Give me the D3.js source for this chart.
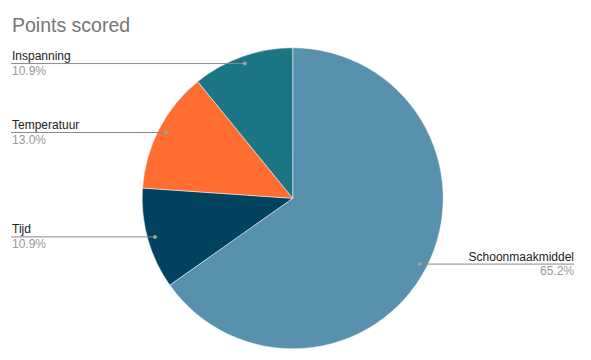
<!DOCTYPE html>
<html>
<head>
<meta charset="utf-8">
<script src="https://cdn.jsdelivr.net/npm/d3@7"></script>
<style>
  body { margin: 0; background: #fff; }
  svg { font-family: "Liberation Sans", Arial, sans-serif; }
</style>
</head>
<body>
<div id="chart"></div>
<script>
const categories = ['Schoonmaakmiddel', 'Tijd', 'Temperatuur', 'Inspanning'];
const points = [30, 5, 6, 5];
const colors = ['#5891ad', '#01425e', '#ff6d31', '#1c7585'];

const width = 591, height = 360;
const cx = 292.7, cy = 198.3, radius = 150.5;

const svg = d3.select('#chart')
    .append('svg')
    .attr('width', width)
    .attr('height', height);

svg.append('text')
    .attr('x', 12)
    .attr('y', 32)
    .attr('font-size', 19.5)
    .attr('fill', '#757575')
    .text('Points scored');

const total = d3.sum(points);
const data = categories.map((name, i) => ({name, value: points[i], color: colors[i]}));

const pie = d3.pie().sort(null).value(d => d.value);
const arc = d3.arc().innerRadius(0).outerRadius(radius);
const dotArc = d3.arc().innerRadius(143).outerRadius(143);

const g = svg.append('g').attr('transform', `translate(${cx},${cy})`);

const slices = pie(data);

g.selectAll('path')
    .data(slices)
    .enter()
    .append('path')
    .attr('d', arc)
    .attr('fill', d => d.data.color)
    .attr('stroke', '#fff')
    .attr('stroke-width', 0.5);

// leader lines + labels
slices.forEach(d => {
    const [x, y] = dotArc.centroid(d);
    const px = cx + x, py = cy + y;
    const mid = (d.startAngle + d.endAngle) / 2;
    const right = mid < Math.PI;
    const endX = right ? 574 : 11;

    svg.append('line')
        .attr('x1', px).attr('y1', py)
        .attr('x2', endX).attr('y2', py)
        .attr('stroke', '#8a8a8a')
        .attr('stroke-width', 1);

    svg.append('circle')
        .attr('cx', px).attr('cy', py)
        .attr('r', 2)
        .attr('fill', '#a0a0a0');

    const anchor = right ? 'end' : 'start';
    const tx = right ? 574 : 12;

    svg.append('text')
        .attr('x', tx).attr('y', py - 3.5)
        .attr('text-anchor', anchor)
        .attr('font-size', 12)
        .attr('fill', '#222')
        .text(d.data.name);

    svg.append('text')
        .attr('x', tx).attr('y', py + 11)
        .attr('text-anchor', anchor)
        .attr('font-size', 12)
        .attr('fill', '#999')
        .text(d3.format('.1f')(d.data.value / total * 100) + '%');
});
</script>
</body>
</html>
